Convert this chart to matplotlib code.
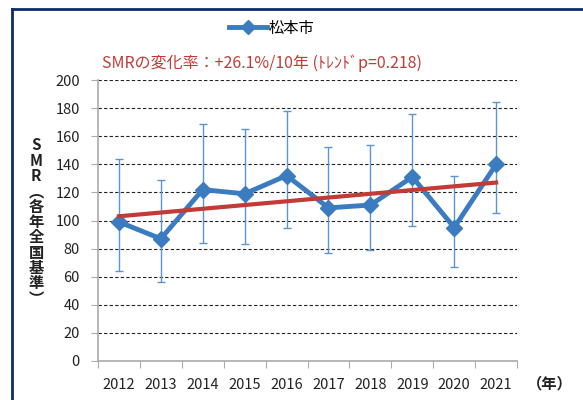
import matplotlib
matplotlib.use("Agg")
import matplotlib.pyplot as plt
from matplotlib.lines import Line2D
import numpy as np

plt.rcParams['font.family'] = ['Noto Sans CJK JP', 'DejaVu Sans']

# data
years = ["2012", "2013", "2014", "2015", "2016", "2017", "2018", "2019", "2020", "2021"]
smr = [99, 87, 122, 119, 132, 109, 111, 131, 95, 140]
ci_upper = [144, 129, 169, 165, 178, 152, 154, 176, 132, 184]
ci_lower = [64, 56, 84, 83, 95, 77, 79, 96, 67, 105]
trend_ends = [103, 127]

blue = "#3B7CC1"
err_blue = "#5A95D2"
red = "#C23B36"

fig = plt.figure(figsize=(5.83, 4.0), dpi=100)
ax = fig.add_axes([0.168, 0.0975, 0.719, 0.7025])

x = np.arange(len(years))
smr = np.array(smr)
yerr = [smr - np.array(ci_lower), np.array(ci_upper) - smr]

ax.errorbar(x, smr, yerr=yerr, fmt="none", ecolor=err_blue, elinewidth=1,
            capsize=3, capthick=1, zorder=2)
ax.plot(x, smr, color=blue, lw=3.5, marker="D", ms=8, zorder=3)
ax.plot([x[0], x[-1]], trend_ends, color=red, lw=3, zorder=4)

ax.set_xlim(-0.5, len(years) - 0.5)
ax.set_ylim(0, 200)
ax.set_yticks(np.arange(0, 201, 20))
ax.yaxis.grid(True, color="#222222", ls=(0, (3, 2)), lw=0.8)
ax.set_axisbelow(True)

ax.set_xticks(np.arange(-0.5, len(years), 1))
ax.set_xticklabels([])
ax.set_xticks(x, minor=True)
ax.set_xticklabels(years, minor=True, fontsize=10.5, color="#222222")
ax.tick_params(axis="x", which="minor", length=0, pad=12)
ax.tick_params(axis="x", which="major", length=5, color="#aaaaaa", direction="out")
ax.tick_params(axis="y", length=5, color="#aaaaaa", labelsize=10.5,
               labelcolor="#222222", pad=8)

for s in ["top", "right"]:
    ax.spines[s].set_visible(False)
for s in ["left", "bottom"]:
    ax.spines[s].set_color("#aaaaaa")
    ax.spines[s].set_linewidth(1.2)

# year unit label
fig.text(550 / 583, 1 - 383 / 400, "（年）", fontsize=11, fontweight="bold",
         ha="center", va="center", color="#222222")

# vertical y label, stacked characters
ylab = "\n".join(list("SMR︵各年全国基準︶"))
fig.text(36 / 583, 1 - 222 / 400, ylab, fontsize=11, fontweight="bold",
         ha="center", va="center", linespacing=0.95, color="#222222")

# red annotation
fig.text(262 / 583, 1 - 63 / 400, "SMRの変化率：+26.1%/10年 (ﾄﾚﾝﾄﾞp=0.218)",
         fontsize=11.5, color=red, ha="center", va="center")

# legend
handle = Line2D([], [], color=blue, lw=3.5, marker="D", ms=7)
fig.legend([handle], ["松本市"], loc="center", bbox_to_anchor=(272 / 583, 1 - 28 / 400),
           frameon=False, fontsize=11, handlelength=2.5, handletextpad=0.1)

# navy border of the chart area
navy = "#0F2B6B"
fig.add_artist(Line2D([12 / 583, 12 / 583], [0, 1 - 9 / 400], color=navy, lw=2,
                      transform=fig.transFigure))
fig.add_artist(Line2D([12 / 583, 1], [1 - 9 / 400, 1 - 9 / 400], color=navy, lw=2,
                      transform=fig.transFigure))

fig.savefig("out.png", dpi=100)
